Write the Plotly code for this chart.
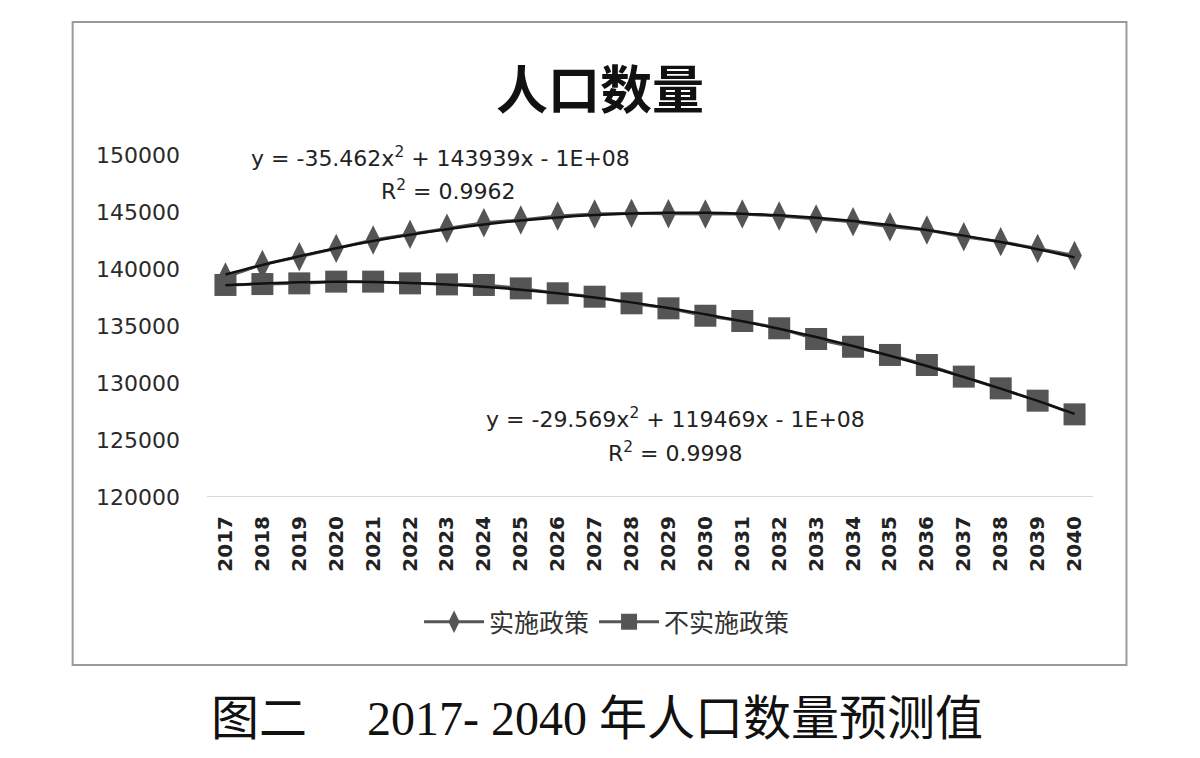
import numpy as np
import plotly.graph_objects as go

years = [str(y) for y in range(2017, 2041)]
policy = [139300, 140400, 141080, 141810, 142540, 143040, 143570, 144060, 144300, 144650,
          144820, 144880, 144850, 144820, 144820, 144650, 144390, 144150, 143710, 143420,
          142830, 142400, 141810, 141180]
no_policy = [138600, 138680, 138740, 138890, 138890, 138740, 138650, 138600, 138300, 137870,
             137570, 136990, 136550, 135900, 135440, 134800, 133860, 133180, 132460, 131580,
             130560, 129530, 128450, 127250]
y_ticks = [120000, 125000, 130000, 135000, 140000, 145000, 150000]
series_names = ["实施政策", "不实施政策"]
title_text = "人口数量"
caption_text = "图二　 2017- 2040 年人口数量预测值"
eq1 = ["y = -35.462x<sup>2</sup> + 143939x - 1E+08", "R<sup>2</sup> = 0.9962"]
eq2 = ["y = -29.569x<sup>2</sup> + 119469x - 1E+08", "R<sup>2</sup> = 0.9998"]

W, H = 1200, 758
L, R, T, B = 206.5, 1093.5, 155, 497

def px(x):
    return (x - L) / (R - L)

def py(y):
    return (B - y) / (B - T)

xi = np.arange(len(years))
fit1 = np.polyval(np.polyfit(xi, policy, 2), xi)
fit2 = np.polyval(np.polyfit(xi, no_policy, 2), xi)

mk_col = "#555555"
fig = go.Figure()
fig.add_trace(go.Scatter(x=years, y=policy, name=series_names[0], mode="lines+markers",
                         line=dict(color=mk_col, width=3),
                         marker=dict(symbol="diamond-tall", size=21, color=mk_col)))
fig.add_trace(go.Scatter(x=years, y=no_policy, name=series_names[1], mode="lines+markers",
                         line=dict(color=mk_col, width=3),
                         marker=dict(symbol="square", size=22, color=mk_col)))
fig.add_trace(go.Scatter(x=years, y=fit1, mode="lines", showlegend=False,
                         line=dict(color="#111111", width=2.5, shape="spline"), hoverinfo="skip"))
fig.add_trace(go.Scatter(x=years, y=fit2, mode="lines", showlegend=False,
                         line=dict(color="#111111", width=2.5, shape="spline"), hoverinfo="skip"))

annos = []
eq_font = dict(family="DejaVu Sans, sans-serif", size=22, color="#222222")
for txt, cx, cy in [(eq1[0], 440, 157), (eq1[1], 448, 190), (eq2[0], 676, 418), (eq2[1], 676, 452)]:
    annos.append(dict(text=txt, x=px(cx), y=py(cy), xref="paper", yref="paper",
                      xanchor="center", yanchor="middle", showarrow=False, font=eq_font))
annos.append(dict(text="<b>" + title_text + "</b>", x=px(600), y=py(86), xref="paper", yref="paper",
                  xanchor="center", yanchor="middle", showarrow=False,
                  font=dict(family="Noto Sans CJK SC", size=52, color="#111111")))
annos.append(dict(text=caption_text, x=px(597), y=py(718), xref="paper", yref="paper",
                  xanchor="center", yanchor="middle", showarrow=False,
                  font=dict(family="Liberation Serif, Noto Sans CJK SC", size=48, color="#111111")))

fig.update_layout(
    width=W, height=H,
    margin=dict(l=L, r=W - R, t=T, b=H - B, pad=0),
    paper_bgcolor="white", plot_bgcolor="white",
    showlegend=True,
    legend=dict(orientation="h", x=px(607), y=py(622), xanchor="center", yanchor="middle",
                font=dict(family="Noto Sans CJK SC", size=25, color="#333333"),
                itemwidth=60, tracegroupgap=0),
    annotations=annos,
    shapes=[dict(type="rect", xref="paper", yref="paper", x0=px(72), x1=px(1127), y0=py(22), y1=py(665),
                 line=dict(color="#9a9a9a", width=2), fillcolor="rgba(0,0,0,0)", layer="below")],
)
fig.update_xaxes(type="category", range=[-0.5, len(years) - 0.5], tickangle=-90,
                 showgrid=False, showline=False, zeroline=False, ticks="", ticklabelstandoff=14,
                 tickfont=dict(family="DejaVu Sans", size=20, color="#222222", weight="bold"))
fig.update_yaxes(range=[120000, 150000], tickvals=y_ticks, ticktext=[str(v) for v in y_ticks],
                 showgrid=False, zeroline=False, showline=False, ticks="", ticklabelstandoff=26,
                 tickfont=dict(family="DejaVu Sans", size=22, color="#2a2a2a"))
fig.add_hline(y=120000, line=dict(color="#cccccc", width=1.5))

fig.write_html("out.html")
